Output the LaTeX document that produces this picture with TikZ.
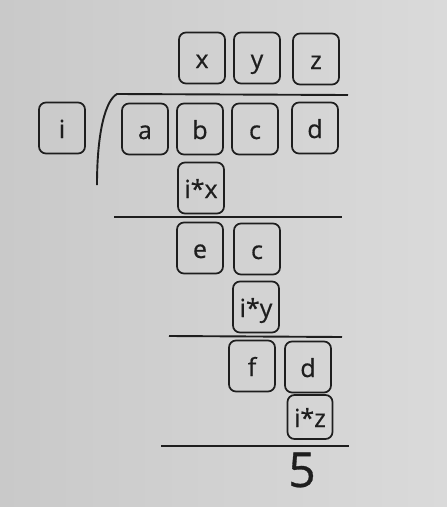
\documentclass[tikz,border=0pt]{standalone}
\usepackage{fontspec}
\setmainfont{Open Sans}[FakeBold=0.6]
\definecolor{ink}{HTML}{1E1E1E}
\definecolor{bgl}{HTML}{C9C9C9}
\definecolor{bgr}{HTML}{DADADA}
\begin{document}
\begin{tikzpicture}[x=1pt,y=-1pt,
  box/.style={draw=ink, line width=1.7pt, rounded corners=7pt, minimum width=46pt, minimum height=51pt,
    inner sep=0pt, text height=22pt, text depth=2pt, text=ink, font=\fontsize{25}{30}\selectfont},
  smallbox/.style={box, minimum width=45pt, minimum height=44pt},
  rule/.style={draw=ink, line width=1.9pt}]
\useasboundingbox (0,0) rectangle (447,507);
\shade[left color=bgl, right color=bgr] (0,0) rectangle (447,507);
% quotient
\node[box] (x) at (202,58) {x};
\node[box] (y) at (257,58) {y};
\node[box] (z) at (316,59) {z};
% divisor and dividend
\node[box] (i) at (62,128) {i};
\node[box] (a) at (145,129) {a};
\node[box] (b) at (200,129) {b};
\node[box] (c1) at (255,129) {c};
\node[box] (d1) at (315,128) {d};
\node[box] (ix) at (201,188) {i*x};
\node[box] (e) at (200,248) {e};
\node[box] (c2) at (257,249) {c};
\node[box] (iy) at (256,307) {i*y};
\node[box] (f) at (252,366) {f};
\node[box] (d2) at (308,367) {d};
\node[smallbox] (iz) at (310,417) {i*z};
\node[text=ink, font=\fontsize{48}{56}\selectfont, inner sep=0pt] (r) at (302,470) {5};
% rules
\coordinate (t0) at (117,94);
\coordinate (t1) at (348,95);
\coordinate (h0) at (97,185);
\draw[rule] (h0) .. controls (97,130) and (106,100) .. (t0) -- (t1);
\coordinate (l2a) at (114,217); \coordinate (l2b) at (342,217);
\coordinate (l3a) at (169,336); \coordinate (l3b) at (342,337);
\coordinate (l4a) at (161,446); \coordinate (l4b) at (349,446);
\draw[rule] (l2a) -- (l2b);
\draw[rule] (l3a) -- (l3b);
\draw[rule] (l4a) -- (l4b);
\end{tikzpicture}
\end{document}
